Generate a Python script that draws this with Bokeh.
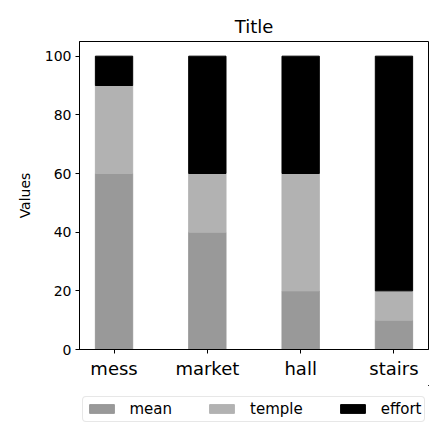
from bokeh.plotting import figure
from bokeh.models import Range1d, Legend, LegendItem, ColumnDataSource
from bokeh.layouts import column
from bokeh.embed import file_html
from bokeh.resources import INLINE

categories = ["mess", "market", "hall", "stairs"]
series_names = ["mean", "temple", "effort"]
mean = [60, 40, 20, 10]
temple = [30, 20, 40, 10]
effort = [10, 40, 40, 80]
colors = ["#999999", "#b2b2b2", "#000000"]
y_ticks = [0, 20, 40, 60, 80, 100]

x = list(range(len(categories)))
source = ColumnDataSource(dict(x=x, mean=mean, temple=temple, effort=effort))

FONT = "DejaVu Sans"

p = figure(width=432, height=385, output_backend="svg", toolbar_location=None,
           x_range=Range1d(-0.37, 3.37), y_range=Range1d(0, 105), title="Title",
           min_border_left=79, min_border_right=4, min_border_top=41,
           min_border_bottom=36)

renderers = p.vbar_stack(series_names, x="x", width=0.4, color=colors, source=source)

p.title.align = "center"
p.title.text_font = FONT
p.title.text_font_size = "18px"
p.title.text_font_style = "normal"
p.title.text_color = "black"

p.xgrid.visible = False
p.ygrid.visible = False
p.outline_line_color = "black"
p.outline_line_width = 1
p.outline_line_alpha = 1

p.xaxis.ticker = x
p.xaxis.major_label_overrides = {i: c for i, c in enumerate(categories)}
p.xaxis.major_label_text_font_size = "18px"
p.yaxis.ticker = y_ticks
p.yaxis.major_label_text_font_size = "14px"
p.yaxis.axis_label = "Values"
p.yaxis.axis_label_text_font_size = "14px"
p.yaxis.axis_label_text_font_style = "normal"
p.yaxis.axis_label_standoff = 9
for ax in (p.xaxis, p.yaxis):
    ax.major_label_text_font = FONT
    ax.axis_label_text_font = FONT
    ax.major_label_text_color = "black"
    ax.axis_label_text_color = "black"
    ax.axis_line_color = "black"
    ax.major_tick_line_color = "black"
    ax.major_tick_in = 0
    ax.major_tick_out = 4
    ax.minor_tick_line_color = None
    ax.major_label_standoff = 4

# legend lives in a small strip below the chart (same data, drawn out of view)
lp = figure(width=432, height=47, output_backend="svg", toolbar_location=None,
            x_range=Range1d(-100, -99), y_range=Range1d(-100, -99),
            x_axis_location=None, y_axis_location=None,
            min_border_left=79, min_border_right=4,
            min_border_top=0, min_border_bottom=0)
lp.outline_line_color = None
lp.xgrid.visible = False
lp.ygrid.visible = False
lrs = lp.vbar_stack(series_names, x="x", width=0.4, color=colors, source=source)

legend = Legend(items=[LegendItem(label=n, renderers=[r]) for n, r in zip(series_names, lrs)],
                orientation="horizontal", location="center")
legend.label_text_font = FONT
legend.label_text_font_size = "15px"
legend.label_text_color = "black"
legend.glyph_width = 31
legend.glyph_height = 11
legend.label_standoff = 13
legend.spacing = 34
legend.padding = 3
legend.margin = 0
legend.border_line_color = "#d0d0d0"
legend.border_line_width = 1.5
legend.border_radius = 4
legend.label_height = 14
lp.add_layout(legend, "center")

layout = column(p, lp, spacing=0)
open("out.html", "w").write(file_html(layout, INLINE))
